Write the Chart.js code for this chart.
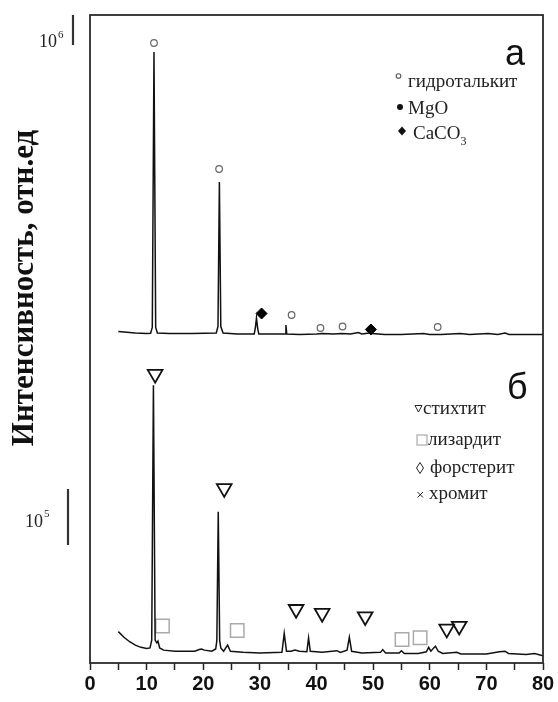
<!DOCTYPE html>
<html>
<head>
<meta charset="utf-8">
<script src="https://cdn.jsdelivr.net/npm/chart.js@4.4.0/dist/chart.umd.min.js"></script>
<style>
  html, body { margin: 0; padding: 0; background: #fff; }
  #wrap { width: 558px; height: 702px; }
</style>
</head>
<body>
<div id="wrap"><canvas id="xrd" width="558" height="702"></canvas></div>
<script>
// panel a: 2theta (deg) and intensity (10^3 counts)
var twoThetaA = [5.0, 6.0, 8.0, 10.0, 10.7, 11.0, 11.3, 11.6, 11.9, 14, 18, 22.3, 22.6, 22.85, 23.1, 23.5,
  26, 29.0, 29.2, 29.4, 29.6, 29.8, 32, 34.45, 34.6, 34.75, 37, 40, 41, 43, 44.5, 46, 47.4, 48, 49.3, 49.6, 49.9,
  52, 55, 58.9, 60, 62, 65.4, 67, 70.3, 72, 73.3, 74, 80];
var intensityA = [283, 267, 233, 217, 223, 420, 9600, 420, 233, 217, 217, 233, 450, 5267, 450, 233,
  200, 200, 400, 733, 400, 200, 200, 200, 500, 200, 183, 200, 217, 200, 217, 200, 250, 200, 233, 333, 217,
  183, 183, 217, 183, 183, 217, 183, 217, 183, 233, 183, 183];

// panel b
var twoThetaB = [5.0, 6.0, 7.0, 8.0, 9.0, 10.0, 10.6, 10.9, 11.2, 11.5, 11.8, 12.0, 12.3, 13, 15, 18.5, 19.3, 19.7,
  20.2, 21.5, 22.2, 22.4, 22.65, 22.9, 23.1, 23.6, 24.3, 24.8, 27, 30, 33.9, 34.3, 34.7, 35.5, 36.2, 37, 38.3, 38.6,
  38.9, 41, 43.6, 44.2, 45.4, 45.8, 46.2, 48, 51.3, 51.7, 52.2, 54.6, 55.0, 55.5, 58, 59.4, 59.8, 60.2, 60.7, 61.0,
  61.5, 62.3, 64.8, 65.5, 70, 72.3, 73.3, 73.9, 77, 78.5, 80];
var intensityB = [56, 46, 38, 32, 28, 26, 27, 41, 496, 41, 36, 39, 27, 23, 21, 21, 24, 25,
  23, 21, 25, 40, 270, 40, 27, 21, 32, 21, 19, 18, 19, 53, 21, 21, 23, 21, 20, 45,
  21, 19, 22, 19, 23, 46, 21, 18, 19, 24, 18, 18, 22, 17, 17, 20, 28, 21, 27, 30,
  21, 17, 19, 16, 16, 20, 21, 17, 15, 17, 13];

// phase marks, panel a
var hydrotalciteX = [11.3, 22.8, 35.6, 40.7, 44.6, 61.4];
var hydrotalciteY = [9900, 5700, 833, 400, 450, 433];
var calciteX = [30.3, 49.6];
var calciteY = [883, 350];

// phase marks, panel b
var stichtiteX = [11.5, 23.7, 36.4, 41.0, 48.6, 63.0, 65.2];
var stichtiteY = [516, 312, 96, 89, 83, 61, 66];
var lizarditeX = [12.8, 26.0, 55.1, 58.3];
var lizarditeY = [66, 58, 42, 45];

var xTicks = [0, 5, 10, 15, 20, 25, 30, 35, 40, 45, 50, 55, 60, 65, 70, 75, 80];
var legendA = ['гидроталькит', 'MgO', 'CaCO'];
var legendB = ['стихтит', 'лизардит', 'форстерит', 'хромит'];
var yTitle = 'Интенсивность, отн.ед';

function pts(xs, ys) { return xs.map(function (x, i) { return { x: x, y: ys[i] }; }); }

var serif = '"Liberation Serif", "Times New Roman", serif';

var decor = {
  id: 'decor',
  afterDraw: function (chart) {
    var ctx = chart.ctx, ca = chart.chartArea;
    var ya = chart.scales.ya, yb = chart.scales.yb;
    ctx.save();
    // frame
    ctx.strokeStyle = '#2b2b2b';
    ctx.lineWidth = 1.8;
    ctx.strokeRect(ca.left, ca.top, ca.right - ca.left, ca.bottom - ca.top);

    // y title
    ctx.save();
    ctx.translate(25, 288);
    ctx.rotate(-Math.PI / 2);
    ctx.font = 'bold 31px ' + serif;
    ctx.textAlign = 'center';
    ctx.textBaseline = 'middle';
    ctx.fillStyle = '#111';
    ctx.fillText(yTitle, 0, 0);
    ctx.restore();

    // scale bars: 10^6 counts (1000) and 10^5 counts (100)
    ctx.strokeStyle = '#333';
    ctx.lineWidth = 2.2;
    ctx.beginPath();
    ctx.moveTo(73, ya.getPixelForValue(9833));
    ctx.lineTo(73, ya.getPixelForValue(10833));
    ctx.moveTo(68, yb.getPixelForValue(211));
    ctx.lineTo(68, yb.getPixelForValue(311));
    ctx.stroke();
    ctx.fillStyle = '#222';
    ctx.textAlign = 'left';
    ctx.textBaseline = 'alphabetic';
    ctx.font = '18px ' + serif;
    ctx.fillText('10', 39, 47);
    ctx.fillText('10', 25, 527);
    ctx.font = '11px ' + serif;
    ctx.fillText('6', 58, 38);
    ctx.fillText('5', 44, 517);

    // panel letters
    ctx.fillStyle = '#111';
    ctx.font = '36px "Liberation Sans", Arial, sans-serif';
    ctx.fillText('а', 505, 65);
    ctx.fillText('б', 507, 399);

    // legend a
    ctx.font = '19px ' + serif;
    ctx.fillStyle = '#222';
    ctx.fillText(legendA[0], 408, 86.5);
    ctx.fillText(legendA[1], 408, 113.5);
    ctx.fillText(legendA[2], 413, 138.5);
    var w = ctx.measureText(legendA[2]).width;
    ctx.font = '12px ' + serif;
    ctx.fillText('3', 413 + w, 145);
    ctx.strokeStyle = '#555';
    ctx.lineWidth = 1.1;
    ctx.beginPath(); ctx.arc(398.5, 76, 2.3, 0, Math.PI * 2); ctx.stroke();
    ctx.fillStyle = '#111';
    ctx.beginPath(); ctx.arc(400, 107, 3, 0, Math.PI * 2); ctx.fill();
    ctx.beginPath();
    ctx.moveTo(402, 126.5); ctx.lineTo(406, 131); ctx.lineTo(402, 135.5); ctx.lineTo(398, 131);
    ctx.closePath(); ctx.fill();

    // legend b
    ctx.font = '19px ' + serif;
    ctx.fillStyle = '#222';
    ctx.fillText(legendB[0], 423, 413.5);
    ctx.fillText(legendB[1], 428, 445);
    ctx.fillText(legendB[2], 430, 473);
    ctx.fillText(legendB[3], 429, 499);
    ctx.strokeStyle = '#222';
    ctx.lineWidth = 1;
    ctx.beginPath(); // open triangle
    ctx.moveTo(415, 405.5); ctx.lineTo(422, 405.5); ctx.lineTo(418.5, 412); ctx.closePath(); ctx.stroke();
    ctx.beginPath(); // open diamond
    ctx.moveTo(420, 462.5); ctx.lineTo(423.5, 468); ctx.lineTo(420, 473.5); ctx.lineTo(416.5, 468); ctx.closePath(); ctx.stroke();
    ctx.beginPath(); // cross
    ctx.moveTo(417.5, 492); ctx.lineTo(423, 497.5); ctx.moveTo(423, 492); ctx.lineTo(417.5, 497.5); ctx.stroke();
    ctx.strokeStyle = '#aaa';
    ctx.lineWidth = 1.2;
    ctx.strokeRect(417, 435, 10, 10);
    ctx.restore();
  }
};

new Chart(document.getElementById('xrd').getContext('2d'), {
  type: 'line',
  data: {
    datasets: [
      { data: pts(twoThetaA, intensityA), yAxisID: 'ya', borderColor: '#111', borderWidth: 1.5, pointRadius: 0, tension: 0 },
      { data: pts(twoThetaB, intensityB), yAxisID: 'yb', borderColor: '#111', borderWidth: 1.5, pointRadius: 0, tension: 0 },
      { data: pts(hydrotalciteX, hydrotalciteY), yAxisID: 'ya', showLine: false, pointStyle: 'circle',
        pointRadius: 3.3, borderWidth: 1.2, pointBorderColor: '#666', pointBackgroundColor: '#fff' },
      { data: pts(calciteX, calciteY), yAxisID: 'ya', showLine: false, pointStyle: 'rectRot',
        pointRadius: 5.5, borderWidth: 1, pointBorderColor: '#000', pointBackgroundColor: '#000' },
      { data: pts(stichtiteX, stichtiteY), yAxisID: 'yb', showLine: false, pointStyle: 'triangle', rotation: 180,
        pointRadius: 8.5, pointBorderWidth: 1.8, pointBorderColor: '#111', pointBackgroundColor: 'rgba(255,255,255,0)' },
      { data: pts(lizarditeX, lizarditeY), yAxisID: 'yb', showLine: false, pointStyle: 'rect',
        pointRadius: 9.5, pointBorderWidth: 1.5, pointBorderColor: '#aaa', pointBackgroundColor: 'rgba(255,255,255,0)' }
    ]
  },
  options: {
    responsive: false,
    animation: false,
    layout: { padding: { top: 15, right: 15, left: 0, bottom: 4 } },
    plugins: { legend: { display: false }, tooltip: { enabled: false } },
    scales: {
      x: {
        type: 'linear', min: 0, max: 80,
        afterBuildTicks: function (s) { s.ticks = xTicks.map(function (v) { return { value: v }; }); },
        ticks: {
          autoSkip: false, maxRotation: 0, padding: 2, color: '#111',
          font: { family: '"Liberation Sans", Arial, sans-serif', weight: 'bold', size: 20 },
          callback: function (v) { return v % 10 === 0 ? v : ''; }
        },
        grid: { drawOnChartArea: false, drawTicks: true, tickLength: 7, tickColor: '#222', tickWidth: 1.5 },
        border: { display: false }
      },
      yb: {
        type: 'linear', position: 'left', stack: 'xrd', stackWeight: 323, min: 0, max: 577,
        ticks: { display: false }, grid: { display: false }, border: { display: false },
        afterFit: function (s) { s.width = 90; }
      },
      ya: {
        type: 'linear', position: 'left', stack: 'xrd', stackWeight: 325, min: 0, max: 10833,
        ticks: { display: false }, grid: { display: false }, border: { display: false },
        afterFit: function (s) { s.width = 90; }
      }
    }
  },
  plugins: [decor]
});
</script>
</body>
</html>
